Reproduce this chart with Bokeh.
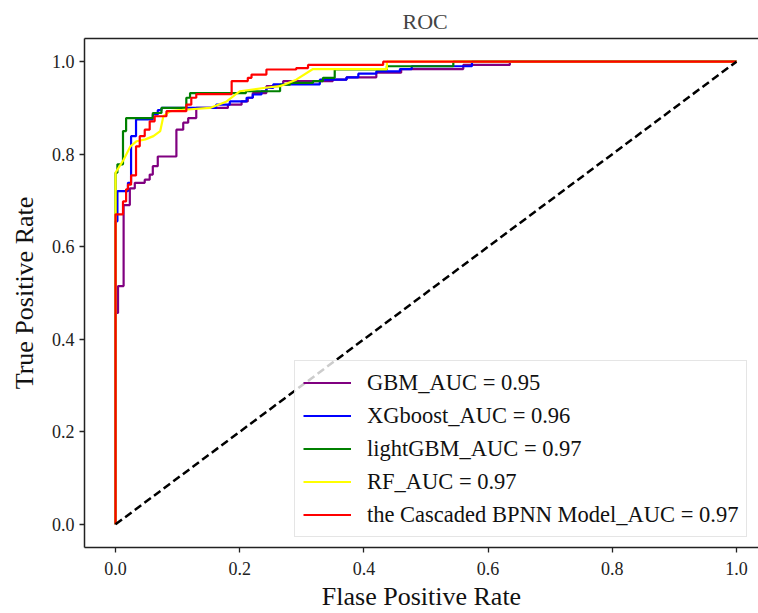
from bokeh.plotting import figure
from bokeh.models import LinearAxis, FixedTicker, PrintfTickFormatter, Range1d
from bokeh.embed import file_html
from bokeh.resources import INLINE

# ---- data ----
gbm_fpr = [0, 0, 0.004, 0.004, 0.013, 0.013, 0.023, 0.023, 0.031, 0.031, 0.047, 0.047, 0.055, 0.055,
           0.060, 0.060, 0.068, 0.068, 0.098, 0.098, 0.109, 0.109, 0.117, 0.117, 0.130, 0.130, 0.181, 0.181,
           0.203, 0.203, 0.213, 0.213, 0.221, 0.221, 0.243, 0.243, 0.265, 0.265, 0.270, 0.270, 0.350, 0.350,
           0.372, 0.372, 0.420, 0.420, 0.460, 0.460, 0.560, 0.560, 0.635, 0.635, 1.0]
gbm_tpr = [0, 0.457, 0.457, 0.515, 0.515, 0.690, 0.690, 0.726, 0.726, 0.738, 0.738, 0.745, 0.745, 0.756,
           0.756, 0.774, 0.774, 0.795, 0.795, 0.853, 0.853, 0.868, 0.868, 0.878, 0.878, 0.900, 0.900, 0.907,
           0.907, 0.914, 0.914, 0.922, 0.922, 0.932, 0.932, 0.947, 0.947, 0.950, 0.950, 0.958, 0.958, 0.961,
           0.961, 0.966, 0.966, 0.976, 0.976, 0.984, 0.984, 0.993, 0.993, 1.0, 1.0]

xgb_fpr = [0, 0, 0.003, 0.003, 0.020, 0.020, 0.025, 0.025, 0.033, 0.033, 0.060, 0.060, 0.068, 0.068,
           0.074, 0.074, 0.162, 0.162, 0.184, 0.184, 0.211, 0.211, 0.221, 0.221, 0.235, 0.235, 0.243, 0.243,
           0.254, 0.254, 0.329, 0.329, 0.372, 0.372, 0.391, 0.391, 0.420, 0.420, 0.458, 0.458, 0.477, 0.477,
           0.574, 0.574, 1.0]
xgb_tpr = [0, 0.655, 0.655, 0.720, 0.720, 0.738, 0.738, 0.839, 0.839, 0.875, 0.875, 0.886, 0.886, 0.895,
           0.895, 0.900, 0.900, 0.907, 0.907, 0.914, 0.914, 0.922, 0.922, 0.929, 0.929, 0.936, 0.936, 0.943,
           0.943, 0.951, 0.951, 0.961, 0.961, 0.966, 0.966, 0.974, 0.974, 0.979, 0.979, 0.984, 0.984, 0.990,
           0.990, 1.0, 1.0]

lgb_fpr = [0, 0, 0.003, 0.003, 0.012, 0.012, 0.017, 0.017, 0.060, 0.060, 0.074, 0.074, 0.114, 0.114,
           0.120, 0.120, 0.210, 0.210, 0.265, 0.265, 0.281, 0.281, 0.318, 0.318, 0.334, 0.334, 0.353, 0.353,
           0.437, 0.437, 0.544, 0.544, 1.0]
lgb_tpr = [0, 0.760, 0.760, 0.778, 0.778, 0.850, 0.850, 0.878, 0.878, 0.889, 0.889, 0.900, 0.900, 0.922,
           0.922, 0.932, 0.932, 0.936, 0.936, 0.950, 0.950, 0.954, 0.954, 0.958, 0.958, 0.965, 0.965, 0.983,
           0.983, 0.990, 0.990, 1.0, 1.0]

rf_fpr = [0, 0, 0.013, 0.024, 0.034, 0.048, 0.061, 0.072, 0.077, 0.088, 0.110, 0.152, 0.179, 0.200,
          0.238, 0.265, 0.291, 0.318, 0.437, 0.437, 1.0]
rf_tpr = [0, 0.760, 0.788, 0.817, 0.828, 0.832, 0.839, 0.850, 0.882, 0.893, 0.896, 0.900, 0.914, 0.936,
          0.943, 0.947, 0.961, 0.984, 0.984, 1.0, 1.0]

bp_fpr = [0, 0, 0.012, 0.012, 0.017, 0.017, 0.020, 0.020, 0.025, 0.025, 0.033, 0.033, 0.039, 0.039,
          0.047, 0.047, 0.055, 0.055, 0.063, 0.063, 0.082, 0.082, 0.114, 0.114, 0.122, 0.122, 0.130, 0.130,
          0.187, 0.187, 0.213, 0.213, 0.219, 0.219, 0.243, 0.243, 0.291, 0.291, 0.310, 0.310, 0.431, 0.431, 1.0]
bp_tpr = [0, 0.670, 0.670, 0.698, 0.698, 0.724, 0.724, 0.734, 0.734, 0.754, 0.754, 0.817, 0.817, 0.839,
          0.839, 0.853, 0.853, 0.871, 0.871, 0.882, 0.882, 0.893, 0.893, 0.907, 0.907, 0.922, 0.922, 0.930,
          0.930, 0.958, 0.958, 0.965, 0.965, 0.972, 0.972, 0.983, 0.983, 0.986, 0.986, 0.993, 0.993, 1.0, 1.0]

chance_x = [0, 1]
chance_y = [0, 1]

labels = ["GBM_AUC = 0.95", "XGboost_AUC = 0.96", "lightGBM_AUC = 0.97",
          "RF_AUC = 0.97", "the Cascaded BPNN Model_AUC = 0.97"]
colors = ["purple", "blue", "green", "yellow", "red"]
tick_vals = [0.0, 0.2, 0.4, 0.6, 0.8, 1.0]

FONT = "Liberation Serif"

p = figure(width=758, height=613, output_backend="svg", toolbar_location=None,
           x_range=Range1d(-0.05, 1.0355), y_range=Range1d(-0.05, 1.05),
           min_border_left=84, min_border_right=0, min_border_top=38, min_border_bottom=65,
           title="ROC")
p.title.text_font = FONT
p.title.text_font_size = "22px"
p.title.text_font_style = "normal"
p.title.align = "left"
p.title.offset = 318

p.grid.visible = False
p.outline_line_color = None
p.background_fill_color = "white"
p.border_fill_color = "white"

curves = [(gbm_fpr, gbm_tpr), (xgb_fpr, xgb_tpr), (lgb_fpr, lgb_tpr), (rf_fpr, rf_tpr), (bp_fpr, bp_tpr)]
for (fx, ty), lab, col in zip(curves, labels, colors):
    p.line(fx, ty, line_color=col, line_width=2.2, legend_label=lab)

p.line(chance_x, chance_y, line_color="black", line_width=2.5, line_dash="8 4")

for ax in (p.xaxis[0], p.yaxis[0]):
    ax.ticker = FixedTicker(ticks=tick_vals)
    ax.formatter = PrintfTickFormatter(format="%.1f")
    ax.major_label_text_font = FONT
    ax.major_label_text_font_size = "18px"
    ax.major_label_text_color = "#222222"
    ax.axis_label_text_font = FONT
    ax.axis_label_text_font_size = "26px"
    ax.axis_label_text_font_style = "normal"
    ax.axis_label_text_color = "#111111"
    ax.minor_tick_line_color = None
    ax.major_tick_in = 0
    ax.major_tick_out = 5
    ax.major_tick_line_width = 1.3
    ax.axis_line_width = 1.5
    ax.axis_line_color = "#222222"
    ax.major_tick_line_color = "#222222"

p.xaxis.axis_label = "Flase Positive Rate"
p.yaxis.axis_label = "True Positive Rate"
p.xaxis.major_label_standoff = 9
p.xaxis.axis_label_standoff = 4
p.yaxis.axis_label_standoff = 10

top = LinearAxis(ticker=FixedTicker(ticks=[]), major_label_text_font_size="0px",
                 major_tick_line_color=None, minor_tick_line_color=None,
                 axis_line_width=1.5, axis_line_color="#222222")
p.add_layout(top, "above")

lg = p.legend[0]
lg.location = (210, 10)
lg.margin = 0
lg.padding = 8
lg.spacing = 6
lg.glyph_width = 48
lg.glyph_height = 27
lg.label_height = 27
lg.label_standoff = 16
lg.label_text_font = FONT
lg.label_text_font_size = "22.5px"
lg.label_text_color = "#111111"
lg.background_fill_alpha = 0.8
lg.border_line_color = "#cccccc"
lg.border_line_width = 1

open("out.html", "w").write(file_html(p, INLINE))
